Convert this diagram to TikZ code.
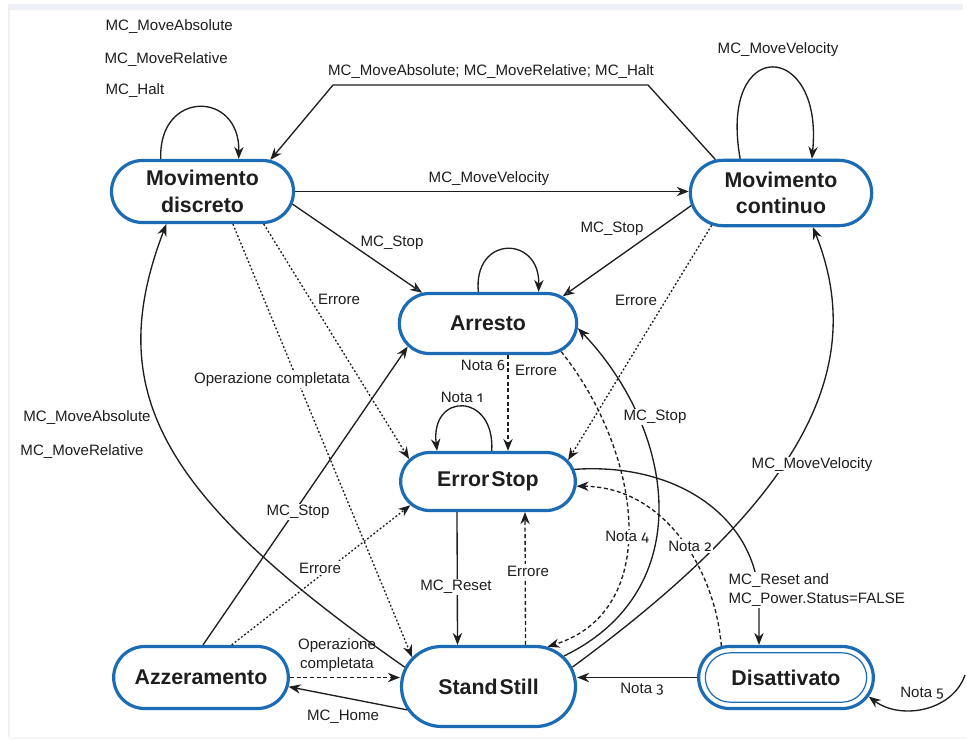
\documentclass[tikz,border=0pt]{standalone}
\usepackage{fontspec}
\setmainfont{Liberation Sans}
\newfontfamily\oldnum[Numbers=OldStyle]{Fira Sans}
\usetikzlibrary{shapes.misc,arrows.meta,calc}
\definecolor{stateblue}{HTML}{1B6CB5}
\definecolor{inkgray}{HTML}{1E1E1E}
\definecolor{framegray}{HTML}{EDF1F7}

\begin{document}
\begin{tikzpicture}[x=0.75pt,y=-0.75pt,
  state/.style={rounded rectangle, draw=stateblue, line width=2.4pt, fill=white,
    inner sep=0pt, font=\fontsize{16}{20}\selectfont\bfseries, text=inkgray, align=center},
  lbl/.style={font=\fontsize{11.3}{15}\selectfont, text=inkgray, inner sep=1pt},
  wlbl/.style={lbl, fill=white},
  tr/.style={draw=inkgray, line width=1pt, -{Stealth[length=9pt,width=7pt]}},
  trb/.style={draw=inkgray, line width=1pt, -{Stealth[length=9pt,width=7pt,fill=stateblue]}},
  dotline/.style={tr, dash pattern=on 1.4pt off 1.6pt},
  dashline/.style={tr, dash pattern=on 3pt off 2pt},
]
\useasboundingbox (0,0) rectangle (967,739);
\fill[white] (0,0) rectangle (967,739);
% light frame
\fill[framegray] (8,4) rectangle (963,10);
\fill[framegray] (8,4) rectangle (10,737);
\fill[framegray!60] (10,737) rectangle (967,739);

% states
\node[state, minimum width=136.5pt, minimum height=46.5pt] (md) at (202.5,191.5) {Movimento\\discreto};
\node[state, minimum width=136pt, minimum height=49pt] (mc) at (781,193) {Movimento\\continuo};
\node[state, minimum width=133pt, minimum height=45pt] (ar) at (488,323.5) {Arresto};
\node[state, minimum width=131pt, minimum height=43.5pt] (es) at (488,481.5) {Error\kern1.5pt Stop};
\node[state, minimum width=130.5pt, minimum height=60pt] (ss) at (488.5,686.5) {Stand\kern1.5pt Still};
\node[state, minimum width=131pt, minimum height=46.5pt] (az) at (201,677.5) {Azzeramento};
\node[state, minimum width=131pt, minimum height=46.5pt] (di) at (786,677.5) {};
\node[rounded rectangle, draw=stateblue, line width=0.9pt, inner sep=0pt,
      minimum width=121pt, minimum height=37pt, font=\fontsize{16}{20}\selectfont\bfseries,
      text=inkgray] (dirim) at (di) {Disattivato};

% self loops
\draw[tr] (md.142) .. controls (158,90) and (240,90) .. (md.42.6);
\draw[tr] (mc.140.7) .. controls (718,35) and (824,40) .. (mc.48.2);
\draw[tr] (ar.107.9) .. controls (473,235) and (540,235) .. (ar.32.3);
\draw[tr] (es.83) .. controls (495,392) and (430,392) .. (es.149.8);

% transitions between the motion states
\draw[tr] (mc.153) -- (648,85) -- (333,85) -- (md.25.9);
\draw[tr] (md.east) -- (md.east -| mc.west);
\draw[trb] (md.-8.7) -- (ar.155.6);
\draw[trb] (mc.188) -- (ar.20.7);
\draw[dotline] (md.-28.4) -- (es.164.5);
\draw[dotline] (md.-47.5) -- (ss.159.5);
\draw[dotline] (mc.205) -- (es.15.7);

% Arresto / ErrorStop / StandStill
\draw[dashline] ([xshift=15pt]ar.south) -- ([xshift=15pt]es.north);
\draw[tr] ([xshift=-23.25pt]es.south) -- ([xshift=-23.25pt]ss.north);
\draw[dashline] ([xshift=27.75pt]ss.north) -- ([xshift=27.75pt]es.south);
\draw[dashline] (ar.-21.8) .. controls (640,450) and (665,610) .. (ss.34.8);
\draw[tr] (ss.22.4) .. controls (700,590) and (675,430) .. (ar.-3);
\draw[tr] (ss.13.6) .. controls (800,500) and (870,370) .. (mc.-47.4);
\draw[tr] (ss.167.8) .. controls (160,496) and (102,392) .. (md.-138);

% Azzeramento
\draw[tr] ([xshift=1.5pt]az.north) -- (ar.196.7);
\draw[dotline] ([xshift=23pt]az.north) -- (es.197.8);
\draw[dashline] (az.east) -- (az.east -| ss.west);
\draw[tr] (ss.196) -- (az.-6.4);

% Disattivato
\draw[tr] (es.8.3) .. controls (680,462) and (757,520) .. (759,600) -- ([xshift=-20.25pt]di.north);
\draw[dashline] (di.154.8) .. controls (715,570) and (665,487) .. (es.-3.8);
\draw[tr] (di.west) -- (di.west -| ss.east);
\coordinate (offpage) at (965,675);
\draw[tr] (offpage) .. controls (952,712) and (900,720) .. (di.-13);

% transition labels
\node[lbl, anchor=west] at (104,27) {MC\_MoveAbsolute};
\node[lbl, anchor=west] at (103,60) {MC\_MoveRelative};
\node[lbl, anchor=west] at (104,91) {MC\_Halt};
\node[lbl] at (491,72) {MC\_MoveAbsolute; MC\_MoveRelative; MC\_Halt};
\node[lbl] at (778,50) {MC\_MoveVelocity};
\node[lbl] at (489,179) {MC\_MoveVelocity};
\node[lbl] at (392,243) {MC\_Stop};
\node[lbl] at (612,229) {MC\_Stop};
\node[lbl] at (339,299) {Errore};
\node[lbl] at (636,300) {Errore};
\node[wlbl] at (272,380) {Operazione completata};
\node[lbl] at (483,365) {Nota {\oldnum 6}};
\node[lbl] at (536,370) {Errore};
\node[lbl] at (462,397) {Nota {\oldnum 1}};
\node[lbl] at (87,418) {MC\_MoveAbsolute};
\node[lbl] at (82,452) {MC\_MoveRelative};
\node[wlbl] at (655,417) {MC\_Stop};
\node[wlbl] at (812,465) {MC\_MoveVelocity};
\node[wlbl] at (298,512) {MC\_Stop};
\node[wlbl] at (627,537) {Nota {\oldnum 4}};
\node[wlbl] at (690,546) {Nota {\oldnum 2}};
\node[wlbl] at (320,568) {Errore};
\node[wlbl] at (528,571) {Errore};
\node[wlbl] at (456,587) {MC\_Reset};
\node[wlbl, anchor=west, align=left, font=\fontsize{11.3}{14.5}\selectfont] at (727,590) {MC\_Reset and\\MC\_Power.Status=FALSE};
\node[lbl, align=center, font=\fontsize{11.3}{14.5}\selectfont] at (337,655) {Operazione\\completata};
\node[lbl] at (343,717) {MC\_Home};
\node[lbl] at (642,689) {Nota {\oldnum 3}};
\node[lbl] at (922,693) {Nota {\oldnum 5}};
\end{tikzpicture}
\end{document}
